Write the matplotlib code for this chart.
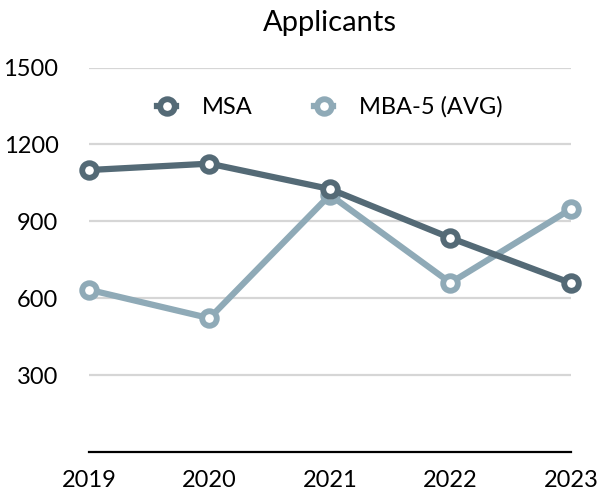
import matplotlib
matplotlib.use("Agg")
import matplotlib.pyplot as plt

plt.rcParams["font.family"] = ["Lato", "DejaVu Sans"]

years = ["2019", "2020", "2021", "2022", "2023"]
msa = [1100, 1125, 1026, 835, 659]
mba5_avg = [633, 522, 1003, 660, 948]
yticks = [300, 600, 900, 1200, 1500]

MSA_COLOR = "#546a76"
MBA_COLOR = "#8faab7"

fig = plt.figure(figsize=(5.98, 4.95), dpi=100)
ax = fig.add_axes([0.1488, 0.0869, 0.806, 0.7767])

x = range(len(years))
ax.plot(x, mba5_avg, color=MBA_COLOR, lw=4.5, marker="o", ms=10.5,
        mfc="white", mec=MBA_COLOR, mew=4.2, label="MBA-5 (AVG)", zorder=3,
        clip_on=False)
ax.plot(x, msa, color=MSA_COLOR, lw=4.5, marker="o", ms=10.5,
        mfc="white", mec=MSA_COLOR, mew=4.2, label="MSA", zorder=4,
        clip_on=False)

ax.set_xlim(0, len(years) - 1)
ax.set_ylim(0, 1500)
ax.set_xticks(list(x))
ax.set_xticklabels(years)
ax.set_yticks(yticks)
ax.tick_params(axis="both", length=0, labelsize=17)
ax.tick_params(axis="y", pad=22)
ax.tick_params(axis="x", pad=13)

for v in yticks:
    ax.axhline(v, color="#d6d6d6", lw=1.6, zorder=1)

for s in ["top", "right", "left"]:
    ax.spines[s].set_visible(False)
ax.spines["bottom"].set_linewidth(1.6)
ax.spines["bottom"].set_color("black")
ax.spines["bottom"].set_zorder(2)

ax.set_title("Applicants", fontsize=21, pad=26)

handles, labels = ax.get_legend_handles_labels()
ax.legend(handles[::-1], labels[::-1], loc="center", bbox_to_anchor=(0.5, 0.897),
          ncol=2, frameon=False, fontsize=17, handlelength=0.8,
          columnspacing=2.6, handletextpad=1.1)

fig.savefig("out.png", dpi=100)
